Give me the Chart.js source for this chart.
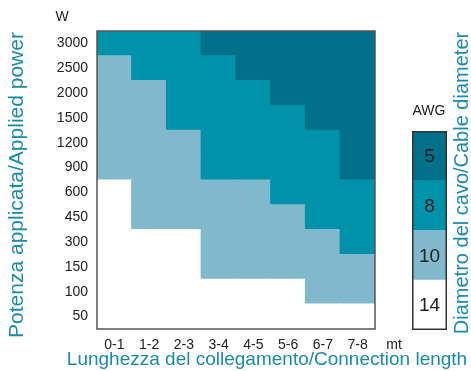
<!DOCTYPE html>
<html><head><meta charset="utf-8">
<script src="https://cdn.jsdelivr.net/npm/chart.js@4/dist/chart.umd.min.js"></script>
<style>
html,body{margin:0;padding:0;background:#fff;}
#wrap{position:relative;width:471px;height:371px;overflow:hidden;}
#main{position:absolute;left:0;top:0;}
#leg{position:absolute;left:412px;top:131px;}
</style></head><body>
<div id="wrap">
<canvas id="main" width="471" height="371"></canvas>
<canvas id="leg" width="35" height="199"></canvas>
</div>
<script>
// ---- data ----
const lengthLabels = ['0-1','1-2','2-3','3-4','4-5','5-6','6-7','7-8'];
const powerLabels = ['3000','2500','2000','1500','1200','900','600','450','300','150','100','50'];
// AWG class per length column, one array per power row
const awg3000 = [8, 8, 8, 5, 5, 5, 5, 5];
const awg2500 = [10, 8, 8, 8, 5, 5, 5, 5];
const awg2000 = [10, 10, 8, 8, 8, 5, 5, 5];
const awg1500 = [10, 10, 8, 8, 8, 8, 5, 5];
const awg1200 = [10, 10, 10, 8, 8, 8, 8, 5];
const awg900  = [10, 10, 10, 8, 8, 8, 8, 5];
const awg600  = [14, 10, 10, 10, 10, 8, 8, 8];
const awg450  = [14, 10, 10, 10, 10, 10, 8, 8];
const awg300  = [14, 14, 14, 10, 10, 10, 10, 8];
const awg150  = [14, 14, 14, 10, 10, 10, 10, 10];
const awg100  = [14, 14, 14, 14, 14, 14, 10, 10];
const awg50   = [14, 14, 14, 14, 14, 14, 14, 14];
const awgClasses = [5, 8, 10, 14];

// ---- styles ----
const awgColors = {5:'#03708b', 8:'#0092aa', 10:'#80b9cb', 14:'#ffffff'};
const TEAL = '#1a8caa';
const FONT = '"Liberation Sans", Arial, sans-serif';

const rowsTopToBottom = [awg3000,awg2500,awg2000,awg1500,awg1200,awg900,awg600,awg450,awg300,awg150,awg100,awg50];
const datasets = rowsTopToBottom.slice().reverse().map((row, i) => ({
  label: powerLabels[powerLabels.length - 1 - i],
  data: row.map(() => 1),
  backgroundColor: row.map(v => awgColors[v]),
  borderWidth: 0,
  inflateAmount: 0.6,
  barPercentage: 1,
  categoryPercentage: 1,
  stack: 's'
}));

const decor = {
  id: 'decor',
  afterDraw(chart) {
    const ctx = chart.ctx, ca = chart.chartArea;
    ctx.save();
    ctx.strokeStyle = '#555';
    ctx.lineWidth = 1.5;
    ctx.strokeRect(ca.left, ca.top, ca.right - ca.left, ca.bottom - ca.top);
    ctx.fillStyle = TEAL;
    ctx.textAlign = 'center';
    ctx.textBaseline = 'middle';
    ctx.font = '19px ' + FONT;
    ctx.fillText('Lunghezza del collegamento/Connection length', 267, 360);
    ctx.font = '21px ' + FONT;
    ctx.save(); ctx.translate(17, 185); ctx.rotate(-Math.PI/2);
    ctx.fillText('Potenza applicata/Applied power', 0, 0); ctx.restore();
    ctx.font = '20px ' + FONT;
    ctx.save(); ctx.translate(462, 183); ctx.rotate(-Math.PI/2);
    ctx.fillText('Diametro del cavo/Cable diameter', 0, 0); ctx.restore();
    ctx.fillStyle = '#222';
    ctx.font = '14px ' + FONT;
    ctx.fillText('W', 62, 17);
    ctx.fillText('mt', 394, 345);
    ctx.fillText('AWG', 429, 111);
    ctx.restore();
  }
};

new Chart(document.getElementById('main'), {
  type: 'bar',
  data: { labels: lengthLabels, datasets },
  options: {
    responsive: false,
    animation: false,
    layout: { padding: { left: 0, top: 31, right: 96, bottom: 0 } },
    plugins: { legend: { display: false }, tooltip: { enabled: false } },
    scales: {
      x: {
        stacked: true,
        grid: { display: false, drawTicks: false }, border: { display: false },
        ticks: { color: '#222', font: { family: FONT, size: 14 }, padding: 8, maxRotation: 0, autoSkip: false },
        afterFit: s => { s.height = 42; }
      },
      y: { stacked: true, min: 0, max: 12, display: false },
      yl: {
        type: 'category', position: 'left', labels: powerLabels, offset: true,
        grid: { display: false, drawTicks: false }, border: { display: false },
        ticks: { color: '#222', font: { family: FONT, size: 14 }, padding: 9, autoSkip: false },
        afterFit: s => { s.width = 97; }
      }
    }
  },
  plugins: [decor]
});

// ---- legend chart ----
const legLabels = awgClasses.slice().reverse();
const legPlugin = {
  id: 'legText',
  afterDraw(chart) {
    const ctx = chart.ctx, ca = chart.chartArea;
    ctx.save();
    ctx.fillStyle = '#222';
    ctx.font = '19px ' + FONT;
    ctx.textAlign = 'center';
    ctx.textBaseline = 'middle';
    chart.data.datasets.forEach((ds, i) => {
      const el = chart.getDatasetMeta(i).data[0];
      ctx.fillText(ds.label, el.x, (el.y + el.base) / 2 + 1);
    });
    ctx.strokeStyle = '#333';
    ctx.lineWidth = 1.5;
    ctx.strokeRect(ca.left + 0.75, ca.top + 0.75, ca.right - ca.left - 1.5, ca.bottom - ca.top - 1.5);
    ctx.restore();
  }
};
new Chart(document.getElementById('leg'), {
  type: 'bar',
  data: {
    labels: ['AWG'],
    datasets: legLabels.map(c => ({
      label: String(c), data: [1], backgroundColor: awgColors[c],
      borderWidth: 0, inflateAmount: 0.6, barPercentage: 1, categoryPercentage: 1, stack: 's'
    }))
  },
  options: {
    responsive: false, animation: false,
    layout: { padding: 0 },
    plugins: { legend: { display: false }, tooltip: { enabled: false } },
    scales: {
      x: { stacked: true, display: false },
      y: { stacked: true, display: false, min: 0, max: awgClasses.length }
    }
  },
  plugins: [legPlugin]
});
</script>
</body></html>
